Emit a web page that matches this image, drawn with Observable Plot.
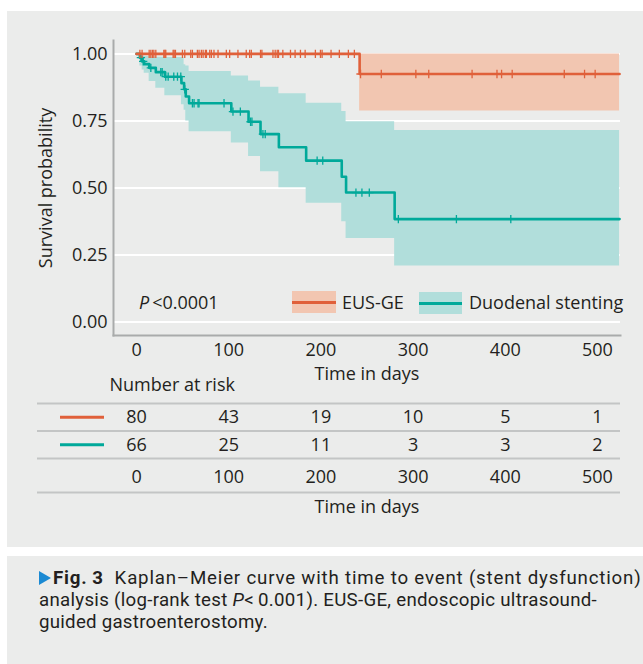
<!DOCTYPE html>
<html>
<head>
<meta charset="utf-8">
<script src="https://cdn.jsdelivr.net/npm/d3@7"></script>
<script src="https://cdn.jsdelivr.net/npm/@observablehq/plot@0.6"></script>
<style>
  html, body { margin: 0; padding: 0; background: #ffffff; }
  body { width: 643px; height: 664px; position: relative; overflow: hidden;
         font-family: "Open Sans", "Noto Sans", sans-serif; color: #231f20; }
  #panel { position: absolute; left: 7px; top: 11px; width: 636px; height: 536px; background: #ebeceb; }
  #cap { position: absolute; left: 7px; top: 556px; width: 636px; height: 108px; background: #ebeceb; overflow: hidden; }
  #capText { position: absolute; left: 32px; top: 11px; font-family: Roboto, "Open Sans", sans-serif;
             font-size: 18.7px; line-height: 22px; white-space: nowrap; }
  #capText .ln { display: block; height: 22px; }
  #capText .ln span.w { display: inline-block; }
  .tri { display: inline-block; width: 0; height: 0; border-left: 12px solid #1b8ad3;
         border-top: 7px solid transparent; border-bottom: 7px solid transparent; margin-right: 2px; vertical-align: -1px; }
  #main { position: absolute; left: 0; top: 0; }
  #table { position: absolute; left: 0; top: 380px; }
  .lg { position: absolute; font-size: 18px; line-height: 22px; white-space: nowrap; }
  .sw { position: absolute; }
  .sw span { position: absolute; left: 0; right: 0; top: 9.5px; height: 3px; }
</style>
</head>
<body>
<div id="panel"></div>
<div id="main"></div>
<div id="table"></div>
<div id="legend"></div>
<div id="cap"><div id="capText"></div></div>
<script>
// ---------------- data ----------------
const groups = ["EUS-GE", "Duodenal stenting"];

// EUS-GE Kaplan–Meier step curve
const eusTimes = [0, 242, 524];
const eusSurv  = [1, 0.925, 0.925];
const eusUpper = [1, 1, 1];
const eusLower = [1, 0.787, 0.787];
const eusCensor = [3.6, 6, 13.7, 15.5, 17.3, 18.8, 20.9, 29.6, 30.7, 31.7, 39.7, 40.8, 42.2, 49.8, 52.3,
  58.8, 60.6, 66, 67.8, 70.3, 72.2, 74.7, 75.8, 79.4, 81.2, 84, 88.4, 97.4, 101, 110, 119, 122.7, 124.5,
  134.5, 136, 148, 150.4, 152.6, 154, 158.7, 167, 172, 177.8, 182.9, 194, 199.5, 201.3, 211, 220, 229.8,
  236.3, 243, 265.5, 303, 317, 364, 391, 396, 407.5, 464, 486, 497.5];

// Duodenal stenting Kaplan–Meier step curve
const duoTimes = [0, 3.6, 6.1, 8.3, 13.7, 20.9, 30.7, 48.7, 51.6, 53.4, 57, 102.8, 121.5, 134.5, 154.4, 184, 222.6, 227.3, 280, 524];
const duoSurv  = [1, 0.986, 0.972, 0.962, 0.948, 0.932, 0.915, 0.891, 0.868, 0.841, 0.816, 0.785, 0.747, 0.701, 0.652, 0.602, 0.542, 0.483, 0.384, 0.384];
const duoUpper = [1, 0.995, 0.993, 0.99, 0.988, 0.988, 0.987, 0.987, 0.96, 0.955, 0.934, 0.918, 0.899, 0.876, 0.851, 0.816, 0.785, 0.747, 0.714, 0.714];
const duoLower = [1, 0.955, 0.94, 0.928, 0.897, 0.872, 0.844, 0.81, 0.79, 0.75, 0.71, 0.668, 0.617, 0.561, 0.501, 0.443, 0.374, 0.312, 0.209, 0.209];
const duoCensor = [4.7, 7.2, 15.5, 26.3, 27.8, 31.7, 34.3, 40.4, 44.4, 48, 52.3, 60.6, 62.4, 66.7, 67.8,
  94.9, 104.6, 112.6, 123.7, 125.2, 137.1, 139.6, 195.9, 202, 238, 244.5, 252.5, 284, 347, 406];

// number at risk
const riskTimes = [0, 100, 200, 300, 400, 500];
const riskEUS = [80, 43, 19, 10, 5, 1];
const riskDuo = [66, 25, 11, 3, 3, 2];

// axes
const xTicks = [0, 100, 200, 300, 400, 500];
const yTicks = [0, 0.25, 0.5, 0.75, 1];
const xDomain = [-25, 525];
const yDomain = [-0.05, 1.05];

// ---------------- style ----------------
const orange = "#e0603a", orangeBand = "#f2c6b1";
const teal = "#00a99a", tealBand = "#b1dedb";
const axisGray = "#a9abab", ruleGray = "#c3c5c5";
const font = '"Open Sans", "Noto Sans", sans-serif';

// ---------------- build tables ----------------
const eusRows = eusTimes.map((t, i) => ({t, s: eusSurv[i], hi: eusUpper[i], lo: eusLower[i]}));
const duoRows = duoTimes.map((t, i) => ({t, s: duoSurv[i], hi: duoUpper[i], lo: duoLower[i]}));
const stepAt = (times, surv, t) => surv[Math.max(0, d3.bisectRight(times, t) - 1)];
const eusCens = eusCensor.map(t => ({t, s: stepAt(eusTimes, eusSurv, t)}));
const duoCens = duoCensor.map(t => ({t, s: stepAt(duoTimes, duoSurv, t)}));

// ---------------- main plot ----------------
const W = 643, mL = 113, mR = 23;
const main = Plot.plot({
  width: W, height: 380,
  marginLeft: mL, marginRight: mR, marginTop: 40, marginBottom: 45,
  x: {domain: xDomain},
  y: {domain: yDomain},
  style: {background: "transparent", fontFamily: font, fontSize: "18px", color: "#231f20", overflow: "visible"},
  marks: [
    Plot.gridY(yTicks, {stroke: "#ffffff", strokeOpacity: 1, strokeWidth: 2}),
    Plot.areaY(eusRows, {x: "t", y1: "lo", y2: "hi", curve: "step-after", fill: orangeBand}),
    Plot.areaY(duoRows, {x: "t", y1: "lo", y2: "hi", curve: "step-after", fill: tealBand}),
    Plot.line(duoRows, {x: "t", y: "s", curve: "step-after", stroke: teal, strokeWidth: 2.6}),
    Plot.line(eusRows, {x: "t", y: "s", curve: "step-after", stroke: orange, strokeWidth: 2.6}),
    Plot.dot(duoCens, {x: "t", y: "s", symbol: "plus", r: 2.8, stroke: teal, strokeWidth: 1.3}),
    Plot.dot(eusCens, {x: "t", y: "s", symbol: "plus", r: 2.8, stroke: orange, strokeWidth: 1.3}),
    Plot.frame({anchor: "left", stroke: axisGray, strokeWidth: 2}),
    Plot.frame({anchor: "bottom", stroke: axisGray, strokeWidth: 2}),
    Plot.axisX(xTicks, {tickSize: 0, tickPadding: 8, label: null}),
    Plot.axisY(yTicks, {tickSize: 0, tickPadding: 6, tickFormat: d => d.toFixed(2), label: null}),
    Plot.text(["Time in days"], {frameAnchor: "bottom", lineAnchor: "middle", dy: 39, fontSize: 18}),
    Plot.text(["Survival probability"], {frameAnchor: "left", textAnchor: "middle", lineAnchor: "middle", dx: -67, rotate: -90, fontSize: 18})
  ]
});
document.getElementById("main").appendChild(main);

// ---------------- number-at-risk table ----------------
const k = (W - mL - mR) / (xDomain[1] - xDomain[0]);
const tL = 37;
const tableDomain = [xDomain[0] - (mL - tL) / k, xDomain[1]];
const riskData = riskTimes.flatMap((t, i) => [
  {t, row: 0, n: riskEUS[i]},
  {t, row: 1, n: riskDuo[i]}
]);
const rowIdx = groups.map((g, i) => i);
const seps = [-0.5, ...rowIdx.map(i => i + 0.5)];
const table = Plot.plot({
  width: W, height: 150,
  marginLeft: tL, marginRight: mR, marginTop: 23, marginBottom: 72,
  x: {domain: tableDomain, axis: null},
  y: {domain: [-0.5, groups.length - 0.5], reverse: true, axis: null},
  style: {background: "transparent", fontFamily: font, fontSize: "18px", color: "#231f20", overflow: "visible"},
  marks: [
    Plot.ruleY(seps, {stroke: ruleGray, strokeWidth: 2}),
    Plot.ruleY([groups.length - 0.5], {dy: 34, stroke: ruleGray, strokeWidth: 2}),
    Plot.ruleY([0], {insetLeft: 23, insetRight: 516, stroke: orange, strokeWidth: 3}),
    Plot.ruleY([1], {insetLeft: 23, insetRight: 516, stroke: teal, strokeWidth: 3}),
    Plot.text(riskData, {x: "t", y: "row", text: "n", fontSize: 18}),
    Plot.text(xTicks, {x: d => d, frameAnchor: "bottom", lineAnchor: "middle", dy: 19, fontSize: 18}),
    Plot.text(["Time in days"], {frameAnchor: "bottom", lineAnchor: "middle", dx: 38, dy: 49, fontSize: 18}),
    Plot.text(["Number at risk"], {frameAnchor: "top-left", textAnchor: "start", lineAnchor: "middle", dx: 72, dy: -18, fontSize: 18})
  ]
});
document.getElementById("table").appendChild(table);

// ---------------- in-plot legend ----------------
const legend = document.getElementById("legend");
legend.innerHTML = `
  <div class="lg" style="left:139px;top:291px"><i>P</i>&thinsp;&lt;0.0001</div>
  <div class="sw" style="left:292px;top:291px;width:44px;height:22px;background:${orangeBand}"><span style="background:${orange}"></span></div>
  <div class="lg" style="left:342px;top:291px">${groups[0]}</div>
  <div class="sw" style="left:419px;top:292px;width:43px;height:22px;background:${tealBand}"><span style="background:${teal}"></span></div>
  <div class="lg" style="left:469px;top:291px">${groups[1]}</div>`;

// ---------------- caption ----------------
const capEl = document.getElementById("capText");
capEl.innerHTML =
  `<div class="ln"><span class="w"><span class="tri"></span><b>Fig.&thinsp;3</b>&nbsp; Kaplan–Meier curve with time to event (stent dysfunction)</span></div>` +
  `<div class="ln"><span class="w">analysis (log-rank test <i>P</i>&lt;&thinsp;0.001). EUS-GE, endoscopic ultrasound-</span></div>` +
  `<div class="ln"><span class="w">guided gastroenterostomy.</span></div>`;
// fit each caption line to the width it has in the figure
const capWidths = [603, 558, 229];
capEl.querySelectorAll("span.w").forEach((el, i) => {
  const w = el.getBoundingClientRect().width;
  const n = el.textContent.length + (i === 0 ? 1 : 0);
  el.style.letterSpacing = Math.max(0, (capWidths[i] - w) / n).toFixed(2) + "px";
});
</script>
</body>
</html>
